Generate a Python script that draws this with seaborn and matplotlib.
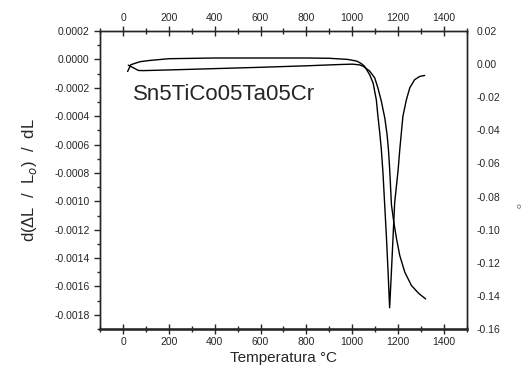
import matplotlib
matplotlib.use("Agg")
import matplotlib.pyplot as plt
import seaborn as sns
import pandas as pd
from matplotlib.ticker import MultipleLocator

# derivative curve (left axis)
temp_d = [20, 34, 74, 118, 200, 400, 600, 800, 900, 980, 1020, 1040, 1054, 1076, 1091,
          1105, 1112, 1120, 1127, 1134, 1141, 1149, 1156, 1163, 1171, 1178, 1185,
          1200, 1207, 1221, 1236, 1251, 1272, 1294, 1316]
deriv = [-0.000085, -0.0000375, -0.000016, -0.000007, 0.000005, 0.00001, 0.00001,
         0.00001, 0.000008, 0.0, -0.000012, -0.00003, -0.000049, -0.000108, -0.000167,
         -0.000285, -0.0004, -0.000518, -0.000638, -0.0008, -0.00101, -0.00125,
         -0.00149, -0.00175, -0.00149, -0.00125, -0.00101, -0.00078, -0.00064,
         -0.0004, -0.000285, -0.0002, -0.000143, -0.00012, -0.000113]

# dL/L0 curve (right axis)
temp_l = [23, 45, 67, 87, 118, 200, 400, 600, 800, 950, 1000, 1030, 1047, 1076, 1098,
          1112, 1127, 1142, 1152, 1158, 1163, 1167, 1171, 1181, 1193, 1207, 1229,
          1258, 1290, 1320]
dl = [-0.0006, -0.0022, -0.0038, -0.0039, -0.0038, -0.0035, -0.0027, -0.0019, -0.001,
      -0.0002, 0.0, -0.0004, -0.0012, -0.0042, -0.0083, -0.0144, -0.0225, -0.0326,
      -0.0427, -0.052, -0.063, -0.074, -0.085, -0.0953, -0.1054, -0.1155, -0.1256,
      -0.1337, -0.1385, -0.1418]

sns.set_style("ticks")
plt.rcParams['font.family'] = ['Liberation Sans', 'DejaVu Sans']

fig = plt.figure(figsize=(5.24, 3.88), dpi=100)
ax = fig.add_axes([0.191, 0.152, 0.700, 0.768])
ax2 = ax.twinx()

sns.lineplot(x=temp_d, y=deriv, ax=ax, color="black", linewidth=1.0, sort=False, estimator=None)
sns.lineplot(x=temp_l, y=dl, ax=ax2, color="black", linewidth=1.0, sort=False, estimator=None)

ax.set_xlim(-100, 1500)
ax.set_ylim(-0.0019, 0.0002)
ax2.set_ylim(-0.16, 0.02)

ax.xaxis.set_major_locator(MultipleLocator(200))
ax.xaxis.set_minor_locator(MultipleLocator(100))
ax.yaxis.set_major_locator(MultipleLocator(0.0002))
ax.yaxis.set_minor_locator(MultipleLocator(0.0001))
ax.yaxis.set_major_formatter(plt.FuncFormatter(lambda v, p: f"{v:.4f}"))
ax2.yaxis.set_major_locator(MultipleLocator(0.02))
ax2.yaxis.set_major_formatter(plt.FuncFormatter(lambda v, p: f"{v:.2f}"))

ax.tick_params(axis="x", which="both", top=True, labeltop=True, direction="inout",
               labelsize=7.5, width=1.0, pad=2)
ax.tick_params(axis="x", which="major", length=7)
ax.tick_params(axis="x", which="minor", length=5)
ax.tick_params(axis="y", which="both", direction="out", labelsize=7.5, width=1.0)
ax.tick_params(axis="y", which="major", length=4)
ax.tick_params(axis="y", which="minor", length=2.5)
ax2.tick_params(axis="y", length=0, pad=7, labelsize=7.5)

for a in (ax, ax2):
    for s in a.spines.values():
        s.set_visible(True)
        s.set_linewidth(1.0)
ax.spines["bottom"].set_linewidth(1.8)

ax.set_xlabel("Temperatura °C", fontsize=11, labelpad=3)
ax.set_ylabel("d(ΔL  /  L$_o$)  /  dL", fontsize=12, labelpad=11)

ax.text(44, -0.00025, "Sn5TiCo05Ta05Cr", fontsize=16, ha="left", va="center")
fig.text(0.992, 0.47, "o", fontsize=6, rotation=90, ha="center", va="center", color="#555555")

fig.savefig("out.png", dpi=100)
